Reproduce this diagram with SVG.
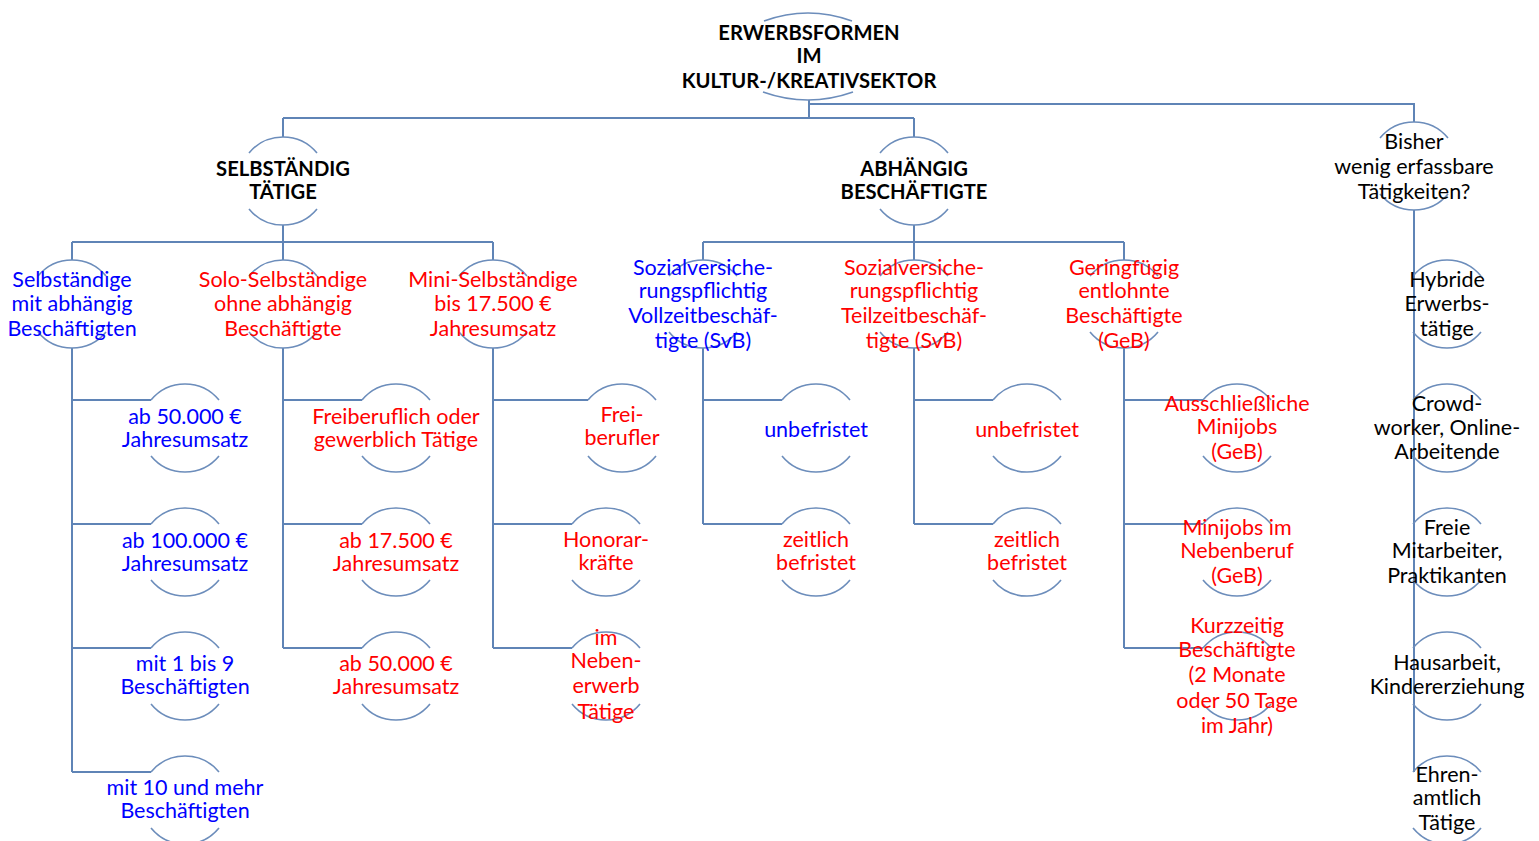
<svg xmlns="http://www.w3.org/2000/svg" width="1539" height="841" viewBox="0 0 1539 841">
<style>
text{font-family:Lato,"Open Sans","Liberation Sans",sans-serif;font-size:21.5px;text-anchor:middle}
.b{fill:#0000ff}.r{fill:#ff0000}.k{fill:#000}.h{font-weight:bold;fill:#000;font-size:20.2px}
.arc{fill:none;stroke:#6c8dbb;stroke-width:1.6}
.con{fill:none;stroke:#5f84b6;stroke-width:2}
</style>
<defs>
<path id="c" class="arc" d="M-34,-28 A44,44 0 0 1 34,-28 M-34,28 A44,44 0 0 0 34,28"/>
</defs>
<rect width="1539" height="841" fill="#fff"/>
<g id="connectors" class="con">
<path d="M809,100 V118 M283,118 H914 M283,118 V137 M914,118 V137 M809,104 H1414 V122"/>
<path d="M283,225 V260 M72,242 H493 M72,242 V260 M493,242 V260"/>
<path d="M914,225 V260 M703,242 H1124 M703,242 V260 M1124,242 V260"/>
<path d="M72,348 V772 M72,400 H151 M72,524 H151 M72,648 H151 M72,772 H151"/>
<path d="M283,348 V648 M283,400 H362 M283,524 H362 M283,648 H362"/>
<path d="M493,348 V648 M493,400 H588 M493,524 H572 M493,648 H572"/>
<path d="M703,348 V524 M703,400 H782 M703,524 H782"/>
<path d="M914,348 V524 M914,400 H993 M914,524 H993"/>
<path d="M1124,348 V648 M1124,400 H1203 M1124,524 H1203 M1124,648 H1203"/>
<path d="M1414,210 V772"/>
</g>
<g id="root">
<path class="arc" d="M764,21 Q808,5 852,21 M763,92 Q808,108 853,92"/>
<text class="h" x="809" y="40">ERWERBSFORMEN</text>
<text class="h" x="809" y="63">IM</text>
<text class="h" x="809" y="88">KULTUR-/KREATIVSEKTOR</text>
</g>
<g id="selbst"><use href="#c" x="283" y="181"/>
<text class="h" x="283" y="176">SELBSTÄNDIG</text><text class="h" x="283" y="199">TÄTIGE</text></g>
<g id="abh"><use href="#c" x="914" y="181"/>
<text class="h" x="914" y="176">ABHÄNGIG</text><text class="h" x="914" y="199">BESCHÄFTIGTE</text></g>
<g id="bisher"><use href="#c" x="1414" y="166"/>
<text class="k" x="1414" y="149">Bisher</text><text class="k" x="1414" y="174">wenig erfassbare</text><text class="k" x="1414" y="199">Tätigkeiten?</text></g>

<g id="n-sma"><use href="#c" x="72" y="304"/>
<text class="b" x="72" y="287">Selbständige</text><text class="b" x="72" y="311">mit abhängig</text><text class="b" x="72" y="336">Beschäftigten</text></g>
<g id="n-solo"><use href="#c" x="283" y="304"/>
<text class="r" x="283" y="287">Solo-Selbständige</text><text class="r" x="283" y="311">ohne abhängig</text><text class="r" x="283" y="336">Beschäftigte</text></g>
<g id="n-mini"><use href="#c" x="493" y="304"/>
<text class="r" x="493" y="287">Mini-Selbständige</text><text class="r" x="493" y="311">bis 17.500 €</text><text class="r" x="493" y="336">Jahresumsatz</text></g>
<g id="n-svbv"><use href="#c" x="703" y="304"/>
<text class="b" x="703" y="275">Sozialversiche-</text><text class="b" x="703" y="298">rungspflichtig</text><text class="b" x="703" y="323">Vollzeitbeschäf-</text><text class="b" x="703" y="348">tigte (SvB)</text></g>
<g id="n-svbt"><use href="#c" x="914" y="304"/>
<text class="r" x="914" y="275">Sozialversiche-</text><text class="r" x="914" y="298">rungspflichtig</text><text class="r" x="914" y="323">Teilzeitbeschäf-</text><text class="r" x="914" y="348">tigte (SvB)</text></g>
<g id="n-geb"><use href="#c" x="1124" y="304"/>
<text class="r" x="1124" y="275">Geringfügig</text><text class="r" x="1124" y="298">entlohnte</text><text class="r" x="1124" y="323">Beschäftigte</text><text class="r" x="1124" y="348">(GeB)</text></g>

<g id="a1"><use href="#c" x="185" y="428"/><text class="b" x="185" y="424">ab 50.000 €</text><text class="b" x="185" y="447">Jahresumsatz</text></g>
<g id="a2"><use href="#c" x="185" y="552"/><text class="b" x="185" y="548">ab 100.000 €</text><text class="b" x="185" y="571">Jahresumsatz</text></g>
<g id="a3"><use href="#c" x="185" y="676"/><text class="b" x="185" y="671">mit 1 bis 9</text><text class="b" x="185" y="694">Beschäftigten</text></g>
<g id="a4"><use href="#c" x="185" y="800"/><text class="b" x="185" y="795">mit 10 und mehr</text><text class="b" x="185" y="818">Beschäftigten</text></g>

<g id="b1"><use href="#c" x="396" y="428"/><text class="r" x="396" y="424">Freiberuflich oder</text><text class="r" x="396" y="447">gewerblich Tätige</text></g>
<g id="b2"><use href="#c" x="396" y="552"/><text class="r" x="396" y="548">ab 17.500 €</text><text class="r" x="396" y="571">Jahresumsatz</text></g>
<g id="b3"><use href="#c" x="396" y="676"/><text class="r" x="396" y="671">ab 50.000 €</text><text class="r" x="396" y="694">Jahresumsatz</text></g>

<g id="c1"><use href="#c" x="622" y="428"/><text class="r" x="622" y="422">Frei-</text><text class="r" x="622" y="445">berufler</text></g>
<g id="c2"><use href="#c" x="606" y="552"/><text class="r" x="606" y="547">Honorar-</text><text class="r" x="606" y="570">kräfte</text></g>
<g id="c3"><use href="#c" x="606" y="676"/><text class="r" x="606" y="645">im</text><text class="r" x="606" y="668">Neben-</text><text class="r" x="606" y="693">erwerb</text><text class="r" x="606" y="719">Tätige</text></g>

<g id="d1"><use href="#c" x="816" y="428"/><text class="b" x="816" y="437">unbefristet</text></g>
<g id="d2"><use href="#c" x="816" y="552"/><text class="r" x="816" y="547">zeitlich</text><text class="r" x="816" y="570">befristet</text></g>
<g id="e1"><use href="#c" x="1027" y="428"/><text class="r" x="1027" y="437">unbefristet</text></g>
<g id="e2"><use href="#c" x="1027" y="552"/><text class="r" x="1027" y="547">zeitlich</text><text class="r" x="1027" y="570">befristet</text></g>

<g id="f1"><use href="#c" x="1237" y="428"/><text class="r" x="1237" y="411">Ausschließliche</text><text class="r" x="1237" y="434">Minijobs</text><text class="r" x="1237" y="459">(GeB)</text></g>
<g id="f2"><use href="#c" x="1237" y="552"/><text class="r" x="1237" y="535">Minijobs im</text><text class="r" x="1237" y="558">Nebenberuf</text><text class="r" x="1237" y="583">(GeB)</text></g>
<g id="f3"><use href="#c" x="1237" y="676"/><text class="r" x="1237" y="633">Kurzzeitig</text><text class="r" x="1237" y="657">Beschäftigte</text><text class="r" x="1237" y="682">(2 Monate</text><text class="r" x="1237" y="708">oder 50 Tage</text><text class="r" x="1237" y="733">im Jahr)</text></g>

<g id="g1"><use href="#c" x="1447" y="304"/><text class="k" x="1447" y="287">Hybride</text><text class="k" x="1447" y="311">Erwerbs-</text><text class="k" x="1447" y="336">tätige</text></g>
<g id="g2"><use href="#c" x="1447" y="428"/><text class="k" x="1447" y="411">Crowd-</text><text class="k" x="1447" y="435">worker, Online-</text><text class="k" x="1447" y="459">Arbeitende</text></g>
<g id="g3"><use href="#c" x="1447" y="552"/><text class="k" x="1447" y="535">Freie</text><text class="k" x="1447" y="558">Mitarbeiter,</text><text class="k" x="1447" y="583">Praktikanten</text></g>
<g id="g4"><use href="#c" x="1447" y="676"/><text class="k" x="1447" y="670">Hausarbeit,</text><text class="k" x="1447" y="694">Kindererziehung</text></g>
<g id="g5"><use href="#c" x="1447" y="800"/><text class="k" x="1447" y="782">Ehren-</text><text class="k" x="1447" y="805">amtlich</text><text class="k" x="1447" y="830">Tätige</text></g>
</svg>
